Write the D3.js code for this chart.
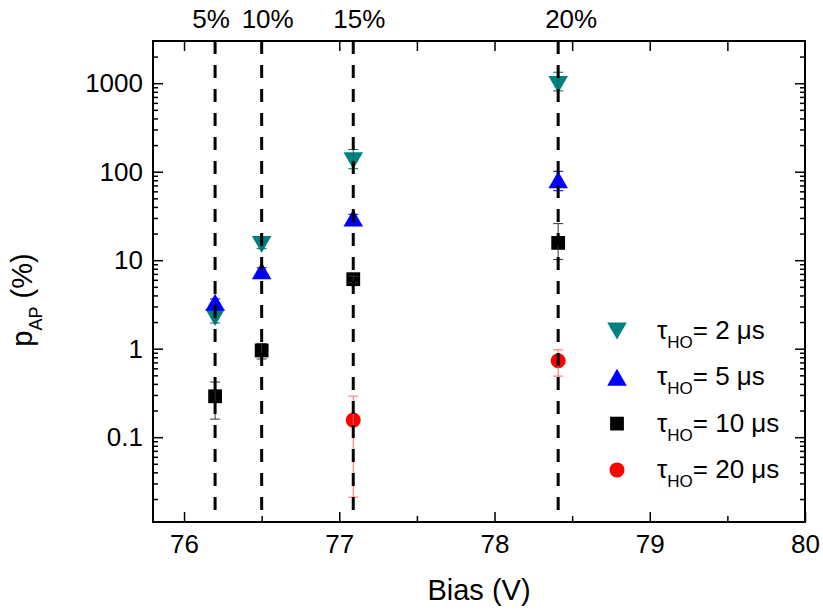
<!DOCTYPE html>
<html>
<head>
<meta charset="utf-8">
<script src="https://cdn.jsdelivr.net/npm/d3@7"></script>
<style>
  body { margin: 0; background: #fff; }
  svg { display: block; font-family: "Liberation Sans", Arial, sans-serif; }
</style>
</head>
<body>
<svg id="chart" width="823" height="612"></svg>
<script>
// bias values of the dashed reference lines and their labels
const lineBias = [76.2, 76.5, 77.09, 78.41];
const lineLabels = ['5%', '10%', '15%', '20%'];

// tau_HO = 2 us
const bias2 = [76.2, 76.5, 77.09, 78.41];
const vals2 = [2.25, 15, 133, 970];
const errLo2 = [0.3, 1.5, 25, 150];
const errHi2 = [0.3, 1.5, 45, 360];

// tau_HO = 5 us
const bias5 = [76.2, 76.5, 77.09, 78.41];
const vals5 = [3.35, 7.6, 30, 81];
const errLo5 = [0.3, 0.6, 3, 20];
const errHi5 = [0.3, 0.6, 3, 20];

// tau_HO = 10 us
const bias10 = [76.2, 76.5, 77.09, 78.41];
const vals10 = [0.29, 0.955, 6.1, 15.7];
const errLo10 = [0.13, 0.19, 0.5, 5.5];
const errHi10 = [0.13, 0.19, 0.5, 10.2];

// tau_HO = 20 us
const bias20 = [77.09, 78.41];
const vals20 = [0.156, 0.73];
const errLo20 = [0.135, 0.24];
const errHi20 = [0.135, 0.24];

const xTicks = [76, 77, 78, 79, 80];
const yTicks = [0.1, 1, 10, 100, 1000];

// triangle symbols centred on their bounding box
const triUp = {
  draw(ctx, size) {
    const h = Math.sqrt(size / 0.575), w = 0.575 * h;
    ctx.moveTo(0, -h / 2); ctx.lineTo(w, h / 2); ctx.lineTo(-w, h / 2); ctx.closePath();
  }
};
const triDown = {
  draw(ctx, size) {
    const h = Math.sqrt(size / 0.575), w = 0.575 * h;
    ctx.moveTo(0, h / 2); ctx.lineTo(w, -h / 2); ctx.lineTo(-w, -h / 2); ctx.closePath();
  }
};

const series = [
  { tau: '2', bias: bias2, vals: vals2, lo: errLo2, hi: errHi2, color: '#008080', err: '#0a6a6a', sym: triDown, size: 166 },
  { tau: '5', bias: bias5, vals: vals5, lo: errLo5, hi: errHi5, color: '#0000ff', err: '#0000cc', sym: triUp, size: 166 },
  { tau: '10', bias: bias10, vals: vals10, lo: errLo10, hi: errHi10, color: '#000000', err: '#333333', sym: d3.symbolSquare, size: 190 },
  { tau: '20', bias: bias20, vals: vals20, lo: errLo20, hi: errHi20, color: '#ff0000', err: '#ff6a6a', sym: d3.symbolCircle, size: 177 }
];

const svg = d3.select('#chart');
const m = { left: 153, right: 805, top: 41, bottom: 522 };

const x = d3.scaleLinear().domain([75.8, 80]).range([m.left, m.right]);
const y = d3.scaleLog().domain([0.011, 3000]).range([m.bottom, m.top]);

const yMinor = [];
[0.01, 0.1, 1, 10, 100, 1000].forEach(d => {
  for (let k = 2; k <= 9; k++) {
    const v = d * k;
    if (v > 0.011 && v < 3000) yMinor.push(v);
  }
});

function tidy(g) {
  g.select('.domain').remove();
  g.selectAll('line').attr('stroke', '#000').attr('stroke-width', 1.5);
  g.selectAll('text').attr('fill', '#000').style('font-family', '"Liberation Sans", Arial, sans-serif');
}

// bottom axis
svg.append('g')
  .attr('transform', `translate(0,${m.bottom})`)
  .call(d3.axisBottom(x).tickValues(xTicks).tickSize(-10).tickPadding(13).tickFormat(d3.format('d')))
  .call(tidy)
  .selectAll('text').style('font-size', '26px');
svg.append('g')
  .attr('transform', `translate(0,${m.bottom})`)
  .call(d3.axisBottom(x).tickValues([76.5, 77.5, 78.5, 79.5]).tickSize(-6).tickFormat(''))
  .call(tidy);

// top axis
svg.append('g')
  .attr('transform', `translate(0,${m.top})`)
  .call(d3.axisTop(x).tickValues(d3.range(76, 80, 0.5)).tickSize(-10).tickFormat(''))
  .call(tidy);

// left axis
svg.append('g')
  .attr('transform', `translate(${m.left},0)`)
  .call(d3.axisLeft(y).tickValues(yTicks).tickSize(-10).tickPadding(10).tickFormat(d => String(d)))
  .call(tidy)
  .selectAll('text').style('font-size', '26px');
svg.append('g')
  .attr('transform', `translate(${m.left},0)`)
  .call(d3.axisLeft(y).tickValues(yMinor).tickSize(-5).tickFormat(''))
  .call(tidy);

// right axis
svg.append('g')
  .attr('transform', `translate(${m.right},0)`)
  .call(d3.axisRight(y).tickValues(yTicks).tickSize(-10).tickFormat(''))
  .call(tidy);
svg.append('g')
  .attr('transform', `translate(${m.right},0)`)
  .call(d3.axisRight(y).tickValues(yMinor).tickSize(-5).tickFormat(''))
  .call(tidy);

// frame
svg.append('rect')
  .attr('x', m.left).attr('y', m.top)
  .attr('width', m.right - m.left).attr('height', m.bottom - m.top)
  .attr('fill', 'none').attr('stroke', '#000').attr('stroke-width', 2);

// markers
const marks = svg.append('g');
series.forEach(s => {
  const pts = s.bias.map((b, i) => ({ b, v: s.vals[i], lo: s.lo[i], hi: s.hi[i] }));
  marks.selectAll(null).data(pts).join('path')
    .attr('transform', d => `translate(${x(d.b)},${y(d.v)})`)
    .attr('d', d3.symbol(s.sym, s.size))
    .attr('fill', s.color);
});

// error bars
series.forEach(s => {
  const pts = s.bias.map((b, i) => ({ b, v: s.vals[i], lo: s.lo[i], hi: s.hi[i] }));
  const g = svg.append('g').attr('stroke', s.err).attr('stroke-width', 1);
  pts.forEach(d => {
    const cx = x(d.b), y1 = y(d.v + d.hi), y2 = y(d.v - d.lo);
    g.append('line').attr('x1', cx).attr('x2', cx).attr('y1', y1).attr('y2', y2);
    [y1, y2].forEach(yy => g.append('line').attr('x1', cx - 5).attr('x2', cx + 5).attr('y1', yy).attr('y2', yy));
  });
});

// dashed reference lines
svg.append('g').selectAll('line').data(lineBias).join('line')
  .attr('x1', d => x(d)).attr('x2', d => x(d))
  .attr('y1', m.top).attr('y2', m.bottom)
  .attr('stroke', '#000').attr('stroke-width', 3)
  .attr('stroke-dasharray', '13,11');

// labels above the plot
const labelOffset = [-4, 6, 6, 13];
svg.append('g').selectAll('text').data(lineLabels).join('text')
  .attr('x', (d, i) => x(lineBias[i]) + labelOffset[i])
  .attr('y', 28)
  .attr('text-anchor', 'middle')
  .style('font-size', '26px')
  .text(d => d);

// legend
const legend = svg.append('g');
series.forEach((s, i) => {
  const ly = 331 + i * 46.3;
  legend.append('path')
    .attr('transform', `translate(617,${ly})`)
    .attr('d', d3.symbol(s.sym, s.size))
    .attr('fill', s.color);
  const t = legend.append('text').attr('x', 657).attr('y', ly + 8).style('font-size', '26px');
  t.append('tspan').text('τ');
  t.append('tspan').attr('dy', 9).style('font-size', '17px').text('HO');
  t.append('tspan').attr('dy', -9).text(`= ${s.tau} μs`);
});

// axis titles
svg.append('text')
  .attr('x', (m.left + m.right) / 2).attr('y', 600)
  .attr('text-anchor', 'middle')
  .style('font-size', '29px')
  .text('Bias (V)');

const yt = svg.append('text')
  .attr('transform', 'translate(32,300) rotate(-90)')
  .attr('text-anchor', 'middle')
  .style('font-size', '29px');
yt.append('tspan').text('p');
yt.append('tspan').attr('dy', 10).style('font-size', '18px').text('AP');
yt.append('tspan').attr('dy', -10).text(' (%)');
</script>
</body>
</html>
